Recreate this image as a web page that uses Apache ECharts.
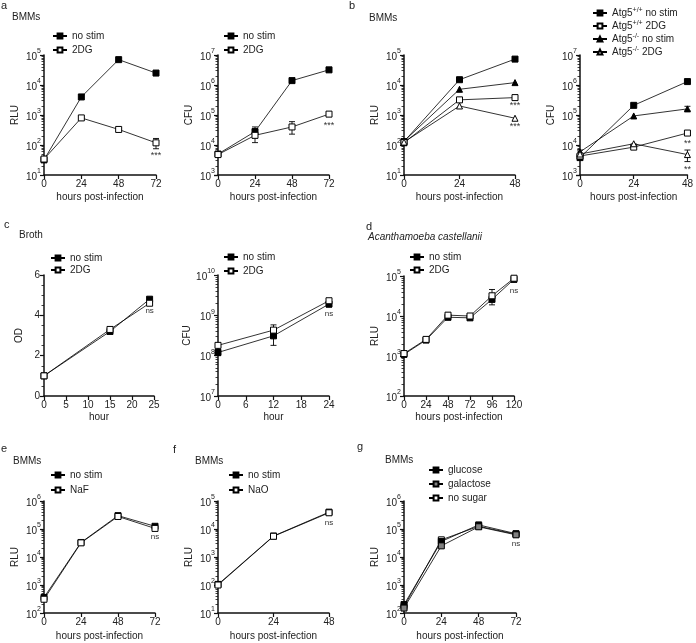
<!DOCTYPE html>
<html>
<head>
<meta charset="utf-8">
<script src="https://cdn.jsdelivr.net/npm/echarts@6/dist/echarts.min.js"></script>
<style>
html, body { margin: 0; padding: 0; background: #fff; }
#main { width: 696px; height: 643px; }
</style>
</head>
<body>
<div id="main"></div>
<script>
// time points (x values)
const t72 = [0, 24, 48, 72];
const t48 = [0, 24, 48];
const tBrothOd = [0, 15, 24];
const tBrothCfu = [0, 12, 24];
const t120 = [0, 24, 48, 72, 96, 120];

// a - BMMs, no stim vs 2DG
const aRluNoStim = [32, 4000, 70000, 25000];
const aRlu2DG = [34, 800, 330, 118];
const aRluErr = [[0, 26, 42], [72, 75, 165]];
const aRlu2DGNote = ['', '', '', '***'];
const aCfuNoStim = [5000, 28000, 1.4e6, 3.2e6];
const aCfu2DG = [4800, 21000, 40000, 1.07e5];
const aCfuErr = [[24, 17000, 40000], [24, 12000, 33000], [48, 23000, 60000]];
const aCfu2DGNote = ['', '', '', '***'];

// b - BMMs, Atg5+/+ vs Atg5-/-
const bRluWtNoStim = [130, 15000, 73000];
const bRluWt2DG = [120, 3200, 3800];
const bRluKoNoStim = [135, 7200, 12000];
const bRluKo2DG = [125, 2000, 780];
const bRluErr = [[0, 95, 150]];
const bRluWt2DGNote = ['', '', '***'];
const bRluKo2DGNote = ['', '', '***'];
const bCfuWtNoStim = [3800, 2.1e5, 1.3e6];
const bCfuWt2DG = [4300, 8500, 25000];
const bCfuKoNoStim = [5900, 93000, 1.6e5];
const bCfuKo2DG = [5000, 11000, 4800];
const bCfuErr = [[0, 3300, 6800], [48, 2800, 6800], [48, 1.4e5, 1.95e5]];
const bCfuWt2DGNote = ['', '', '**'];
const bCfuKo2DGNote = ['', '', '**'];

// c - broth
const cOdNoStim = [1.0, 3.2, 4.8];
const cOd2DG = [1.0, 3.3, 4.6];
const cOd2DGNote = ['', '', 'ns'];
const cCfuNoStim = [1.2e8, 3.1e8, 1.9e9];
const cCfu2DG = [1.8e8, 4.3e8, 2.3e9];
const cCfuErr = [[0, 1e8, 1.4e8], [12, 1.8e8, 4.5e8], [12, 3.3e8, 5.8e8], [24, 1.6e9, 2.3e9]];
const cCfuNoStimNote = ['', '', 'ns'];

// d - Acanthamoeba castellanii
const dRluNoStim = [1100, 2500, 9300, 9000, 26000, 83000];
const dRlu2DG = [1150, 2600, 10500, 10000, 32000, 88000];
const dRluErr = [[0, 950, 1250], [48, 8000, 12000], [72, 8500, 11000], [96, 19000, 46000], [120, 70000, 95000]];
const dRlu2DGNote = ['', '', '', '', '', 'ns'];

// e, f, g - BMMs
const eRluNoStim = [360, 33000, 300000, 125000];
const eRluNaF = [310, 32000, 280000, 105000];
const eRluNaFNote = ['', '', '', 'ns'];
const fRluNoStim = [105, 5600, 40000];
const fRluNaO = [100, 5500, 38000];
const fRluNaONote = ['', '', 'ns'];
const gGlucose = [200, 36000, 140000, 68000];
const gGalactose = [150, 25000, 120000, 62000];
const gNoSugar = [170, 41000, 125000, 65000];
const gGalactoseNote = ['', '', '', 'ns'];

const FONT = 'Liberation Sans, Arial, sans-serif';
const TXT = '#222';

const FILLED = { symbol: 'rect', fill: '#000' };
const OPEN = { symbol: 'rect', fill: '#fff' };
const GREY = { symbol: 'rect', fill: '#808080' };
const TRI = { symbol: 'triangle', fill: '#000' };
const OPENTRI = { symbol: 'triangle', fill: '#fff' };

// legend labels (superscripts via rich text)
const legendText = {
    wtNo: 'Atg5{s|+/+} no stim',
    wt2DG: 'Atg5{s|+/+} 2DG',
    koNo: 'Atg5{s|-/-} no stim',
    ko2DG: 'Atg5{s|-/-} 2DG'
};

// grids: a1 a2 b1 b2 c1 c2 d e f g
const grids = [
    { left: 44, top: 55, width: 112, height: 120 },
    { left: 218, top: 55, width: 111, height: 120 },
    { left: 404, top: 55, width: 111, height: 120 },
    { left: 580, top: 55, width: 110, height: 120 },
    { left: 44, top: 275, width: 110, height: 121 },
    { left: 218, top: 275, width: 111, height: 121 },
    { left: 404, top: 276, width: 110, height: 120 },
    { left: 44, top: 501, width: 111, height: 112 },
    { left: 218, top: 501, width: 111, height: 112 },
    { left: 404, top: 501, width: 112, height: 112 }
];

const axisLine = { show: true, onZero: false, lineStyle: { color: '#111', width: 1.5 } };

function xAx(gi, max, interval, name, gap) {
    return {
        type: 'value', gridIndex: gi, min: 0, max: max, interval: interval,
        axisLine: axisLine,
        axisTick: { show: true, length: 4, lineStyle: { color: '#111', width: 1.2 } },
        axisLabel: { fontSize: 10, color: TXT, fontFamily: FONT, margin: 4 },
        splitLine: { show: false },
        name: name, nameLocation: 'middle', nameGap: gap,
        nameTextStyle: { fontSize: 10, color: TXT, fontFamily: FONT }
    };
}

function logY(gi, min, max, name) {
    return {
        type: 'log', logBase: 10, gridIndex: gi, min: min, max: max,
        axisLine: axisLine,
        axisTick: { show: true, length: 4, lineStyle: { color: '#111', width: 1.2 } },
        minorTick: { show: true, splitNumber: 9, length: 2.5, lineStyle: { color: '#111', width: 0.8 } },
        axisLabel: {
            margin: 3,
            formatter: v => '{b|10}{s|' + Math.round(Math.log10(v)) + '}',
            rich: {
                b: { fontSize: 10, color: TXT, fontFamily: FONT, lineHeight: 14, verticalAlign: 'bottom' },
                s: { fontSize: 7, color: TXT, fontFamily: FONT, lineHeight: 14, verticalAlign: 'top' }
            }
        },
        splitLine: { show: false },
        name: name, nameLocation: 'middle', nameGap: 24,
        nameTextStyle: { fontSize: 10, color: TXT, fontFamily: FONT }
    };
}

function linY(gi, min, max, interval, name) {
    return {
        type: 'value', gridIndex: gi, min: min, max: max, interval: interval,
        axisLine: axisLine,
        axisTick: { show: true, length: 4, lineStyle: { color: '#111', width: 1.2 } },
        minorTick: { show: true, splitNumber: 4, length: 2.5, lineStyle: { color: '#111', width: 0.8 } },
        axisLabel: { fontSize: 10, color: TXT, fontFamily: FONT, margin: 4 },
        splitLine: { show: false },
        name: name, nameLocation: 'middle', nameGap: 20,
        nameTextStyle: { fontSize: 10, color: TXT, fontFamily: FONT }
    };
}

function line(gi, name, xs, ys, st, notes, dist) {
    return {
        type: 'line', name: name, xAxisIndex: gi, yAxisIndex: gi,
        data: xs.map((x, i) => {
            const item = { value: [x, ys[i]] };
            if (notes && notes[i]) {
                item.label = {
                    show: true, formatter: notes[i], position: 'bottom', distance: dist,
                    fontSize: notes[i] === 'ns' ? 8 : 9, color: '#333', fontFamily: FONT
                };
            }
            return item;
        }),
        symbol: st.symbol, symbolSize: 6,
        itemStyle: { color: st.fill, borderColor: '#000', borderWidth: 1 },
        lineStyle: { color: '#000', width: 0.8 },
        clip: false, animation: false, emphasis: { disabled: true }
    };
}

function errBars(gi, data) {
    return {
        type: 'custom', xAxisIndex: gi, yAxisIndex: gi, data: data, z: 1,
        silent: true, animation: false, clip: false,
        renderItem: (params, api) => {
            const lo = api.coord([api.value(0), api.value(1)]);
            const hi = api.coord([api.value(0), api.value(2)]);
            const w = 3;
            const st = { stroke: '#000', lineWidth: 0.9 };
            return {
                type: 'group', children: [
                    { type: 'line', shape: { x1: lo[0], y1: lo[1], x2: hi[0], y2: hi[1] }, style: st },
                    { type: 'line', shape: { x1: lo[0] - w, y1: lo[1], x2: lo[0] + w, y2: lo[1] }, style: st },
                    { type: 'line', shape: { x1: hi[0] - w, y1: hi[1], x2: hi[0] + w, y2: hi[1] }, style: st }
                ]
            };
        }
    };
}

function legend(names, left, top, gap) {
    return {
        data: names, orient: 'vertical', left: left, top: top, itemGap: gap,
        itemWidth: 14, itemHeight: 6, selectedMode: false, padding: 0,
        formatter: n => legendText[n] || n.split('|')[0],
        textStyle: {
            fontSize: 10, color: TXT, fontFamily: FONT, lineHeight: 12,
            rich: { s: { fontSize: 7, color: TXT, fontFamily: FONT, lineHeight: 12, verticalAlign: 'top' } }
        }
    };
}

function ttl(text, left, top, size, italic) {
    return {
        text: text, left: left, top: top, padding: 0,
        textStyle: { fontSize: size, fontWeight: 'normal', color: TXT, fontFamily: FONT, fontStyle: italic ? 'italic' : 'normal' }
    };
}

const HPI = 'hours post-infection';

const option = {
    backgroundColor: '#fff',
    animation: false,
    title: [
        ttl('a', 1, 0, 11), ttl('BMMs', 12, 12, 10),
        ttl('b', 349, 0, 11), ttl('BMMs', 369, 13, 10),
        ttl('c', 4, 219, 11), ttl('Broth', 19, 230, 10),
        ttl('d', 366, 221, 11), ttl('Acanthamoeba castellanii', 368, 232, 10, true),
        ttl('e', 1, 443, 11), ttl('BMMs', 13, 456, 10),
        ttl('f', 173, 444, 11), ttl('BMMs', 195, 456, 10),
        ttl('g', 357, 441, 11), ttl('BMMs', 385, 455, 10)
    ],
    legend: [
        legend(['no stim|a1', '2DG|a1'], 52, 30, 2),
        legend(['no stim|a2', '2DG|a2'], 223, 30, 2),
        legend(['wtNo', 'wt2DG', 'koNo', 'ko2DG'], 592, 7, 1),
        legend(['no stim|c1', '2DG|c1'], 50, 252, 0),
        legend(['no stim|c2', '2DG|c2'], 223, 251, 2),
        legend(['no stim|d', '2DG|d'], 409, 251, 1),
        legend(['no stim|e', 'NaF'], 50, 469, 3),
        legend(['no stim|f', 'NaO'], 228, 469, 3),
        legend(['glucose', 'galactose', 'no sugar'], 428, 464, 2)
    ],
    grid: grids,
    xAxis: [
        xAx(0, 72, 24, HPI, 17),
        xAx(1, 72, 24, HPI, 17),
        xAx(2, 48, 24, HPI, 17),
        xAx(3, 48, 24, HPI, 17),
        xAx(4, 25, 5, 'hour', 16),
        xAx(5, 24, 6, 'hour', 16),
        xAx(6, 120, 24, HPI, 16),
        xAx(7, 72, 24, HPI, 18),
        xAx(8, 48, 24, HPI, 18),
        xAx(9, 72, 24, HPI, 18)
    ],
    yAxis: [
        logY(0, 10, 1e5, 'RLU'),
        logY(1, 1e3, 1e7, 'CFU'),
        logY(2, 10, 1e5, 'RLU'),
        logY(3, 1e3, 1e7, 'CFU'),
        linY(4, 0, 6, 2, 'OD'),
        logY(5, 1e7, 1e10, 'CFU'),
        logY(6, 100, 1e5, 'RLU'),
        logY(7, 100, 1e6, 'RLU'),
        logY(8, 10, 1e5, 'RLU'),
        logY(9, 100, 1e6, 'RLU')
    ],
    series: [
        errBars(0, aRluErr),
        line(0, 'no stim|a1', t72, aRluNoStim, FILLED),
        line(0, '2DG|a1', t72, aRlu2DG, OPEN, aRlu2DGNote, 5),

        errBars(1, aCfuErr),
        line(1, 'no stim|a2', t72, aCfuNoStim, FILLED),
        line(1, '2DG|a2', t72, aCfu2DG, OPEN, aCfu2DGNote, 3),

        errBars(2, bRluErr),
        line(2, 'wtNo|b1', t48, bRluWtNoStim, FILLED),
        line(2, 'koNo|b1', t48, bRluKoNoStim, TRI),
        line(2, 'wt2DG|b1', t48, bRluWt2DG, OPEN, bRluWt2DGNote, 0),
        line(2, 'ko2DG|b1', t48, bRluKo2DG, OPENTRI, bRluKo2DGNote, 0),

        errBars(3, bCfuErr),
        line(3, 'wtNo', t48, bCfuWtNoStim, FILLED),
        line(3, 'koNo', t48, bCfuKoNoStim, TRI),
        line(3, 'wt2DG', t48, bCfuWt2DG, OPEN, bCfuWt2DGNote, 2),
        line(3, 'ko2DG', t48, bCfuKo2DG, OPENTRI, bCfuKo2DGNote, 7),

        line(4, 'no stim|c1', tBrothOd, cOdNoStim, FILLED),
        line(4, '2DG|c1', tBrothOd, cOd2DG, OPEN, cOd2DGNote, 0),

        errBars(5, cCfuErr),
        line(5, 'no stim|c2', tBrothCfu, cCfuNoStim, FILLED, cCfuNoStimNote, 2),
        line(5, '2DG|c2', tBrothCfu, cCfu2DG, OPEN),

        errBars(6, dRluErr),
        line(6, 'no stim|d', t120, dRluNoStim, FILLED),
        line(6, '2DG|d', t120, dRlu2DG, OPEN, dRlu2DGNote, 5),

        line(7, 'no stim|e', t72, eRluNoStim, FILLED),
        line(7, 'NaF', t72, eRluNaF, OPEN, eRluNaFNote, 1),

        line(8, 'no stim|f', t48, fRluNoStim, FILLED),
        line(8, 'NaO', t48, fRluNaO, OPEN, fRluNaONote, 3),

        line(9, 'no sugar', t72, gNoSugar, OPEN),
        line(9, 'glucose', t72, gGlucose, FILLED),
        line(9, 'galactose', t72, gGalactose, GREY, gGalactoseNote, 1)
    ]
};

const chart = echarts.init(document.getElementById('main'), null, { renderer: 'canvas' });
chart.setOption(option);
</script>
</body>
</html>
